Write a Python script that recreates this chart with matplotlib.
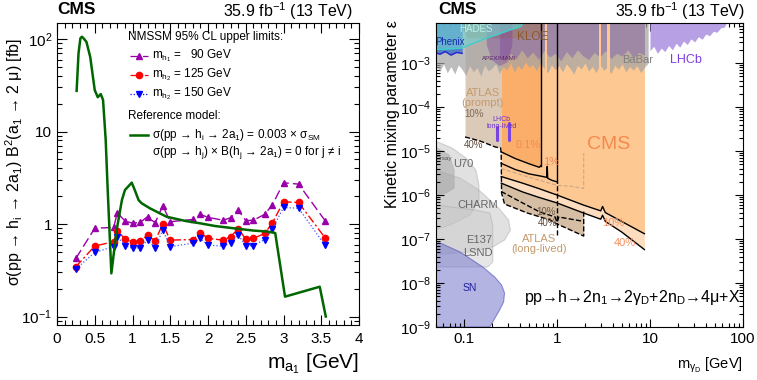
import numpy as np
import matplotlib
matplotlib.use('Agg')
import matplotlib.pyplot as plt
from matplotlib.ticker import (FixedLocator, MultipleLocator, NullFormatter, LogLocator,
                               FixedFormatter, FuncFormatter)

plt.rcParams['font.family'] = ['Liberation Sans', 'DejaVu Sans']
plt.rcParams['mathtext.fontset'] = 'custom'
plt.rcParams['mathtext.rm'] = 'Liberation Sans'
plt.rcParams['mathtext.it'] = 'Liberation Sans:italic'
plt.rcParams['mathtext.bf'] = 'Liberation Sans:bold'
plt.rcParams['mathtext.sf'] = 'Liberation Sans'
plt.rcParams['mathtext.default'] = 'rm'

# ---------------- left panel data ----------------
ma_ref = [0.26, 0.285, 0.31, 0.33, 0.36, 0.39, 0.44, 0.50, 0.54, 0.58, 0.61, 0.645, 0.67,
          0.72, 0.79, 0.86, 0.90, 0.99, 1.03, 1.08, 1.12, 1.23, 1.45, 1.7, 1.89, 2.1, 2.34,
          2.6, 2.78, 2.89, 3.02, 3.48, 3.56]
sigma_ref = [27.5, 70, 102, 106, 100, 93, 64, 28, 23.5, 25.4, 21.9, 8.1, 2.5,
             0.293, 0.86, 1.82, 2.33, 2.8, 2.33, 1.82, 1.68, 1.48, 1.2, 1.08, 1.02, 0.95, 0.90,
             0.85, 0.83, 0.80, 0.164, 0.21, 0.10]

ma_points = [0.25, 0.5, 0.75, 0.8, 0.9, 1.0, 1.1, 1.2, 1.3, 1.4, 1.5, 1.8, 1.9, 2.0,
             2.2, 2.3, 2.4, 2.5, 2.6, 2.75, 2.85, 3.0, 3.2, 3.55]
lim_h1_90 = [0.425, 0.90, 0.92, 1.32, 1.08, 1.02, 1.04, 1.20, 1.03, 1.58, 1.06, 1.12,
             1.27, 1.18, 1.10, 1.17, 1.42, 1.09, 1.10, 1.27, 1.60, 2.79, 2.70, 1.09]
lim_h2_125 = [0.346, 0.578, 0.644, 0.847, 0.689, 0.644, 0.655, 0.76, 0.655, 1.0, 0.67, 0.68,
              0.805, 0.70, 0.67, 0.73, 0.89, 0.689, 0.70, 0.79, 1.02, 1.74, 1.71, 0.71]
lim_h2_150 = [0.327, 0.494, 0.569, 0.73, 0.584, 0.546, 0.555, 0.67, 0.555, 0.861, 0.57, 0.62,
              0.70, 0.59, 0.578, 0.62, 0.76, 0.584, 0.584, 0.68, 0.875, 1.51, 1.48, 0.59]

# ---------------- right panel data (log10 m [GeV], log10 eps) ----------------
gray_band_logm = [-1.31, -1.26, -1.22, -1.18, -1.14, -1.10, -1.06, -1.02, -0.98, -0.94, -0.90, -0.86,
                  -0.82, -0.78, -0.74, -0.70, -0.66, -0.62, -0.58, -0.54, -0.50, -0.46, -0.42, -0.38,
                  -0.34, -0.30, -0.26, -0.22, -0.18, -0.14, -0.10, -0.06, -0.02, 0.02, 0.06, 0.10,
                  0.14, 0.18, 0.22, 0.26, 0.30, 0.34, 0.38, 0.42, 0.46, 0.50, 0.54, 0.58, 0.62,
                  0.66, 0.70, 0.74, 0.78, 0.82, 0.86, 0.90, 0.94, 0.98]
gray_band_logeps = [-3.05, -3.18, -3.02, -3.22, -3.08, -3.25, -3.04, -3.15, -3.28, -3.06, -3.20, -3.10,
                    -3.30, -3.05, -3.18, -3.12, -3.02, -3.24, -3.08, -3.16, -3.00, -3.20, -3.06, -3.14,
                    -2.98, -3.10, -3.04, -3.18, -3.00, -3.12, -3.22, -3.04, -3.15, -3.06, -3.20, -3.02,
                    -3.12, -3.25, -3.05, -3.14, -3.00, -3.18, -3.08, -3.22, -3.03, -3.16, -3.10, -3.24,
                    -3.05, -3.14, -3.02, -3.20, -3.08, -3.16, -3.06, -3.22, -3.10, -3.00]
purple_band_logm = [-0.62, -0.56, -0.50, -0.44, -0.38, -0.32, -0.26, -0.20, -0.14, -0.08, -0.02, 0.04,
                    0.10, 0.16, 0.22, 0.28, 0.34, 0.40, 0.46, 0.52, 0.58, 0.64, 0.70, 0.76, 0.82, 0.88, 0.94]
purple_band_logeps = [-2.80, -2.95, -2.78, -2.90, -2.70, -2.88, -2.75, -2.92, -2.72, -2.86, -2.78, -2.95,
                      -2.74, -2.88, -2.70, -2.84, -2.92, -2.76, -2.86, -2.72, -2.90, -2.78, -2.84, -2.70,
                      -2.88, -2.76, -2.82]
lhcb_logm = [1.00, 1.04, 1.08, 1.12, 1.16, 1.20, 1.24, 1.28, 1.32, 1.36, 1.40, 1.44, 1.48, 1.52,
             1.56, 1.60, 1.64, 1.68, 1.72, 1.76, 1.80, 1.82]
lhcb_logeps = [-2.72, -2.62, -2.78, -2.66, -2.74, -2.60, -2.70, -2.55, -2.64, -2.50, -2.58, -2.45,
               -2.52, -2.40, -2.46, -2.34, -2.38, -2.28, -2.30, -2.20, -2.18, -2.09]
phenix_logm = [-1.31, -1.26, -1.20, -1.14, -1.08, -1.02]
phenix_logeps = [-2.76, -2.80, -2.74, -2.82, -2.76, -2.78]
hades_logm = [-1.31, -1.02, -0.90, -0.755, -0.65, -0.51, -0.40, -0.35]
hades_logeps = [-2.70, -2.66, -2.55, -2.43, -2.36, -2.25, -2.18, -2.07]
kloe_logm = [-1.02, -0.96, -0.70, -0.40, -0.20, -0.15]
kloe_logeps = [-2.20, -2.42, -2.43, -2.42, -2.38, -2.20]
apex_logm = [-0.755, -0.755, -0.70, -0.617, -0.53, -0.479, -0.479]
apex_logeps = [-2.09, -2.59, -2.93, -3.07, -2.98, -2.59, -2.09]

atlas_prompt_logm = [-0.989, -0.83, -0.66, -0.60]
atlas_prompt_logeps = [-4.68, -4.77, -4.91, -4.93]
atlas_ll_logm = [-0.989, -0.83, -0.66, -0.606, -0.60, -0.596, -0.564, -0.319, -0.074, 0.0, 0.074, 0.287, 0.287]
atlas_ll_logeps = [-4.68, -4.77, -4.91, -4.93, -5.05, -5.955, -6.205, -6.409, -6.568, -6.66, -6.727, -6.932, -6.34]
atlas_ll10_logm = [-0.60, -0.37, -0.19, -0.02, 0.0, 0.02, 0.287]
atlas_ll10_logeps = [-5.92, -6.18, -6.38, -6.50, -6.62, -6.50, -6.60]
atlas_faint_logm = [-0.60, -0.37, -0.10, 0.0, 0.15, 0.287, 0.287]
atlas_faint_logeps = [-5.40, -5.55, -5.72, -5.78, -5.80, -5.85, -5.05]

cms01_logm = [-0.60, -0.45, -0.30, -0.19, -0.173]
cms01_logeps = [-5.02, -5.17, -5.29, -5.37, -5.33]
cms1_logm = [-0.60, -0.45, -0.30, -0.15, -0.11, -0.105, -0.10, -0.05, 0.0]
cms1_logeps = [-5.28, -5.42, -5.52, -5.58, -5.60, -5.35, -5.62, -5.67, -5.70]
cms10_logm = [-0.60, -0.37, -0.20, 0.0, 0.287, 0.47, 0.49, 0.52, 0.695, 0.94]
cms10_logeps = [-5.58, -5.73, -5.85, -6.0, -6.23, -6.36, -6.26, -6.40, -6.60, -6.88]
cms40_logm = [-0.60, -0.37, -0.20, 0.0, 0.287, 0.47, 0.49, 0.52, 0.695, 0.94]
cms40_logeps = [-5.73, -5.93, -6.05, -6.18, -6.41, -6.55, -6.46, -6.60, -6.84, -7.24]
vline1_logeps = [-6.90, -5.70]

orsay_logm = [-1.31, -1.160, -1.106, -1.106, -1.191, -1.31]
orsay_logeps = [-4.909, -5.091, -5.432, -5.841, -5.955, -6.0]
u70_logm = [-1.31, -1.128, -0.979, -0.872, -0.840, -0.840, -0.936, -1.149, -1.31]
u70_logeps = [-4.773, -4.932, -5.159, -5.432, -5.773, -6.114, -6.455, -6.682, -6.795]
charm_logm = [-1.31, -1.043, -0.840, -0.628, -0.521, -0.500, -0.564, -0.691, -0.936, -1.31]
charm_logeps = [-5.432, -5.614, -5.886, -6.295, -6.568, -6.795, -7.023, -7.182, -7.295, -7.364]
e137_logm = [-1.31, -0.883, -0.723, -0.691, -0.691, -0.745, -1.31]
e137_logeps = [-6.227, -6.341, -6.409, -6.682, -7.523, -7.636, -7.636]
sn_logm = [-1.31, -1.255, -1.043, -0.798, -0.670, -0.596, -0.564, -0.574, -0.617, -0.723, -1.31]
sn_logeps = [-7.091, -7.091, -7.295, -7.636, -7.864, -8.045, -8.227, -8.432, -8.614, -9.0, -9.0]

lhcb_ll_logm = [-0.649, -0.514]
lhcb_ll_lo = [-4.75, -4.75]
lhcb_ll_hi = [-4.45, -4.36]
stripe_lo_m = [0.74, 2.85, 3.45]
stripe_hi_m = [0.79, 3.00, 3.70]


def P(a):
    return np.power(10.0, np.asarray(a, dtype=float))


fig = plt.figure(figsize=(7.57, 3.80), dpi=100)

# ================= LEFT PANEL =================
ax1 = fig.add_axes([57/757, 1-325/380, 302/757, 302/380])
ax1.set_xlim(0, 4)
ax1.set_ylim(0.081, 149)
ax1.set_yscale('log')

ax1.plot(ma_points, lim_h1_90, color='#9900AA', lw=1.0, dashes=(7, 3), marker='^', ms=4.5, zorder=3)
ax1.plot(ma_points, lim_h2_125, color='#FF0000', lw=1.0, dashes=(6, 2, 1.5, 2), marker='o', ms=4.5, zorder=3)
ax1.plot(ma_points, lim_h2_150, color='#4455FF', lw=0.9, ls=':', marker='v', ms=4.5, zorder=3,
         markerfacecolor='#0000FF', markeredgecolor='#0000FF')
ax1.plot(ma_ref, sigma_ref, color='#006600', lw=1.8, zorder=4)

ax1.xaxis.set_major_locator(MultipleLocator(0.5))
ax1.xaxis.set_minor_locator(MultipleLocator(0.1))
ax1.xaxis.set_major_formatter(FuncFormatter(lambda v, p: '%g' % v))
ax1.yaxis.set_major_locator(FixedLocator([0.1, 1, 10, 100]))
ax1.yaxis.set_major_formatter(FixedFormatter(['$10^{-1}$', '1', '10', '$10^{2}$']))
ax1.yaxis.set_minor_locator(LogLocator(base=10, subs=np.arange(2, 10)))
ax1.yaxis.set_minor_formatter(NullFormatter())
ax1.tick_params(which='both', direction='in', top=True, right=True, labelsize=11)
ax1.tick_params(which='major', length=7, width=0.8)
ax1.tick_params(which='minor', length=3.5, width=0.8)
ax1.tick_params(axis='x', pad=5)

# legend (manual)
lt = dict(transform=ax1.transAxes, fontsize=8.5, va='center', ha='left')
ax1.text(0.235, 0.954, 'NMSSM 95% CL upper limits:', **lt)
rows = [(0.891, '#9900AA', '^', (7, 3), 'm$_{\\mathregular{h_{1}}}$ =   90 GeV'),
        (0.828, '#FF0000', 'o', (6, 2, 1.5, 2), 'm$_{\\mathregular{h_{2}}}$ = 125 GeV'),
        (0.765, '#0000FF', 'v', (1, 1.5), 'm$_{\\mathregular{h_{2}}}$ = 150 GeV')]
for fy, col, mk, ds, lab in rows:
    ax1.plot([0.242, 0.301], [fy, fy], transform=ax1.transAxes, color=col, lw=0.9, dashes=ds)
    ax1.plot([0.2715], [fy], transform=ax1.transAxes, color=col, marker=mk, ms=4.5)
    ax1.text(0.315, fy, lab, **lt)
ax1.text(0.235, 0.692, 'Reference model:', **lt)
ax1.plot([0.242, 0.301], [0.629, 0.629], transform=ax1.transAxes, color='#006600', lw=1.8)
ax1.text(0.315, 0.629, 'σ(pp → h$_{\\mathregular{i}}$ → 2a$_{\\mathregular{1}}$) = 0.003 × σ$_{\\mathregular{SM}}$', **lt)
ax1.text(0.315, 0.570, 'σ(pp → h$_{\\mathregular{j}}$) × B(h$_{\\mathregular{j}}$ → 2a$_{\\mathregular{1}}$) = 0 for j ≠ i', **lt)

fig.text(57/757, 1-10/380, 'CMS', fontsize=12.5, fontweight='bold', ha='left', va='center')
fig.text(353/757, 1-11/380, '35.9 fb$^{\\mathregular{-1}}$ (13 TeV)', fontsize=11.5, ha='right', va='center')
fig.text(359/757, 1-364/380, 'm$_{\\mathregular{a_{1}}}$ [GeV]', fontsize=15, ha='right', va='center')
fig.text(14/757, 1-38/380, 'σ(pp → h$_{\\mathregular{i}}$ → 2a$_{\\mathregular{1}}$) B$^{\\mathregular{2}}$(a$_{\\mathregular{1}}$ → 2 μ) [fb]',
         fontsize=11.5, rotation=90, ha='center', va='top')

# ================= RIGHT PANEL =================
ax2 = fig.add_axes([436/757, 1-327/380, 307/757, 304/380])
ax2.set_xscale('log')
ax2.set_yscale('log')
ax2.set_xlim(0.05, 100)
ytop = 10 ** -2.09
ax2.set_ylim(1e-9, ytop)

# gray fixed-target regions
for lm, le, fc in [(charm_logm, charm_logeps, '#BDBDBD'), (u70_logm, u70_logeps, '#BDBDBD'),
                   (e137_logm, e137_logeps, '#C8C8C8'), (orsay_logm, orsay_logeps, '#9A9A9A')]:
    ax2.fill(P(lm), P(le), facecolor=fc, alpha=0.45, edgecolor='#A8A8A8', lw=0.8, zorder=1)
ax2.fill(P(sn_logm), P(sn_logeps), facecolor='#7777CC', alpha=0.55, edgecolor='#4444BB', lw=0.8, zorder=1.5)

# ATLAS prompt & long-lived (tan)
ax2.fill_between(P(atlas_prompt_logm), P(atlas_prompt_logeps), ytop, color='#DCCAB8', lw=0, zorder=2)
ll_m = P(atlas_ll_logm[5:12])
ax2.fill_between(ll_m, P(atlas_ll_logeps[5:12]), 1e-5, color='#D6BEA4', lw=0, zorder=2)

# CMS regions
ax2.fill_between(P(cms40_logm), P(cms40_logeps), ytop, color='#FDDDBF', lw=0, zorder=3)
ax2.fill_between(P(cms10_logm), P(cms10_logeps), ytop, color='#FEC893', lw=0, zorder=3.1)
ax2.fill_between(P(cms1_logm), P(cms1_logeps), ytop, color='#FEC893', lw=0, zorder=3.2)
ax2.fill_between(P(cms01_logm), P(cms01_logeps), ytop, color='#FBAE69', lw=0, zorder=3.3)

# faint ATLAS dashed inside CMS
ax2.plot(P(atlas_faint_logm), P(atlas_faint_logeps), color='#C9A78A', lw=0.8, ls='--', zorder=3.5)

# upper exclusion bands
ax2.fill_between(P(gray_band_logm), P(gray_band_logeps), ytop, color='#A4A4A4', alpha=0.72, lw=0, zorder=4)
ax2.fill_between(P(purple_band_logm), P(purple_band_logeps), ytop, color='#7A5AB0', alpha=0.45, lw=0, zorder=4.1)
ax2.fill_between(P(lhcb_logm), P(lhcb_logeps), ytop, color='#B7A0E4', lw=0, zorder=4.1)
for lo, hi in zip(stripe_lo_m, stripe_hi_m):
    ax2.fill_between([lo, hi], [1e-4, 1e-4], ytop, color='#FEC893', lw=0, zorder=4.2)
ax2.fill_between(P(kloe_logm), P(kloe_logeps), ytop, color='#A0703C', alpha=0.35, lw=0, zorder=4.3)
ax2.fill(P(apex_logm), P(apex_logeps), facecolor='#7A3F9A', alpha=0.4, lw=0, zorder=4.4)
ax2.fill_between(P(phenix_logm), P(phenix_logeps), ytop, color='#3A6FC8', alpha=0.8, lw=0, zorder=4.5)
ax2.plot(P(phenix_logm), P(phenix_logeps), color='#2525D0', lw=1.0, zorder=4.6)
ax2.fill_between(P(hades_logm), P(hades_logeps), ytop, color='#6FD3D3', alpha=0.6, lw=0, zorder=4.7)
ax2.plot(P(hades_logm), P(hades_logeps), color='#40CCCC', lw=1.0, zorder=4.8)

# LHCb long-lived
for lm, lo, hi in zip(lhcb_ll_logm, lhcb_ll_lo, lhcb_ll_hi):
    ax2.plot(P([lm, lm]), P([lo, hi]), color='#7A44E0', lw=2.2, solid_capstyle='round', zorder=5)

# contour lines
ax2.plot(P(cms01_logm), P(cms01_logeps), color='black', lw=1.0, zorder=6)
ax2.plot(P([cms01_logm[-1], cms01_logm[-1]]), [P(cms01_logeps[-1]), ytop], color='black', lw=1.0, zorder=6)
ax2.plot(P(cms1_logm), P(cms1_logeps), color='black', lw=1.0, zorder=6)
ax2.plot(P([cms1_logm[-1], cms1_logm[-1]]), [P(cms1_logeps[-1]), ytop], color='black', lw=1.0, zorder=6)
ax2.plot(P([cms1_logm[-1], cms1_logm[-1]]), P(vline1_logeps), color='black', lw=1.0, ls='--', zorder=6)
ax2.plot(P(cms10_logm), P(cms10_logeps), color='black', lw=1.0, zorder=6)
ax2.plot(P(cms40_logm), P(cms40_logeps), color='black', lw=1.0, zorder=6)
ax2.plot(P(atlas_ll10_logm), P(atlas_ll10_logeps), color='black', lw=1.0, ls='--', zorder=6)
ax2.plot(P(atlas_ll_logm), P(atlas_ll_logeps), color='black', lw=1.0, ls='--', zorder=6)

ax2.xaxis.set_major_locator(FixedLocator([0.1, 1, 10, 100]))
ax2.xaxis.set_major_formatter(FixedFormatter(['0.1', '1', '10', '100']))
ax2.xaxis.set_minor_locator(LogLocator(base=10, subs=np.arange(2, 10)))
ax2.xaxis.set_minor_formatter(NullFormatter())
ax2.yaxis.set_major_locator(FixedLocator([1e-9, 1e-8, 1e-7, 1e-6, 1e-5, 1e-4, 1e-3]))
ax2.yaxis.set_major_formatter(FixedFormatter(['$10^{-9}$', '$10^{-8}$', '$10^{-7}$', '$10^{-6}$',
                                              '$10^{-5}$', '$10^{-4}$', '$10^{-3}$']))
ax2.yaxis.set_minor_locator(LogLocator(base=10, subs=np.arange(2, 10), numticks=20))
ax2.yaxis.set_minor_formatter(NullFormatter())
ax2.tick_params(which='both', direction='in', top=True, right=True, labelsize=11)
ax2.tick_params(which='major', length=6, width=0.8)
ax2.tick_params(which='minor', length=3, width=0.8)
for sp in ax2.spines.values():
    sp.set_zorder(10)


def T(lm, le, s, **kw):
    ax2.text(P(lm), P(le), s, ha='center', va='center', zorder=8, **kw)


T(0.553, -4.86, 'CMS', fontsize=14, color='#F5894D')
T(-0.309, -4.86, '0.1%', fontsize=8, color='#F28A55')
T(-0.064, -5.25, '1%', fontsize=8, color='#F28A55')
T(0.606, -6.64, '10%', fontsize=8, color='#F59060')
T(0.734, -7.09, '40%', fontsize=8, color='#F59060')
T(-0.798, -3.79, 'ATLAS\n(prompt)', fontsize=8, color='#C49A6C', linespacing=1.0)
T(-0.894, -4.16, '10%', fontsize=7, color='#7F6A5A')
T(-0.894, -4.86, '40%', fontsize=7, color='#5F4A3A')
T(-0.596, -4.36, 'LHCb\nlong-lived', fontsize=5, color='#7030D0', linespacing=0.95)
T(-0.117, -6.39, '10%', fontsize=7, color='#6F5A4A')
T(-0.106, -6.64, '40%', fontsize=7, color='#5F4A3A')
T(-0.191, -7.12, 'ATLAS\n(long-lived)', fontsize=8, color='#C49A6C', linespacing=1.0)
T(-0.851, -6.23, 'CHARM', fontsize=8, color='#666666')
T(-1.01, -5.30, 'U70', fontsize=8, color='#666666')
T(-1.21, -5.18, 'Orsay', fontsize=4.5, color='#555555')
T(-0.84, -7.02, 'E137', fontsize=8, color='#666666')
T(-0.851, -7.32, 'LSND', fontsize=8, color='#666666')
T(-0.936, -8.11, 'SN', fontsize=7.5, color='#2020A0')
T(-1.149, -2.52, 'Phenix', fontsize=7, color='#1A2AB0')
T(-0.872, -2.23, 'HADES', fontsize=7, color='#B8F0F0')
T(-0.266, -2.41, 'KLOE', fontsize=8.5, color='#8B5A2B')
T(-0.617, -2.89, 'APEX/MAMI', fontsize=4.5, color='#5A1F6A')
T(0.872, -2.93, 'BaBar', fontsize=8, color='#808080')
T(1.383, -2.93, 'LHCb', fontsize=9, color='#7B3FE0')
ax2.text(P(-0.351), P(-8.34), 'pp→h→2n$_{\\mathregular{1}}$→2γ$_{\\mathregular{D}}$+2n$_{\\mathregular{D}}$→4μ+X',
         fontsize=11.5, ha='left', va='center', zorder=8)

fig.text(438/757, 1-10/380, 'CMS', fontsize=12.5, fontweight='bold', ha='left', va='center')
fig.text(745/757, 1-11/380, '35.9 fb$^{\\mathregular{-1}}$ (13 TeV)', fontsize=11.5, ha='right', va='center')
fig.text(743/757, 1-365/380, 'm$_{\\mathregular{γ_{D}}}$ [GeV]', fontsize=10.5, ha='right', va='center')
fig.text(392/757, 1-20/380, 'Kinetic mixing parameter ε', fontsize=11.5, rotation=90, ha='center', va='top')

fig.savefig('out.png', dpi=100)
